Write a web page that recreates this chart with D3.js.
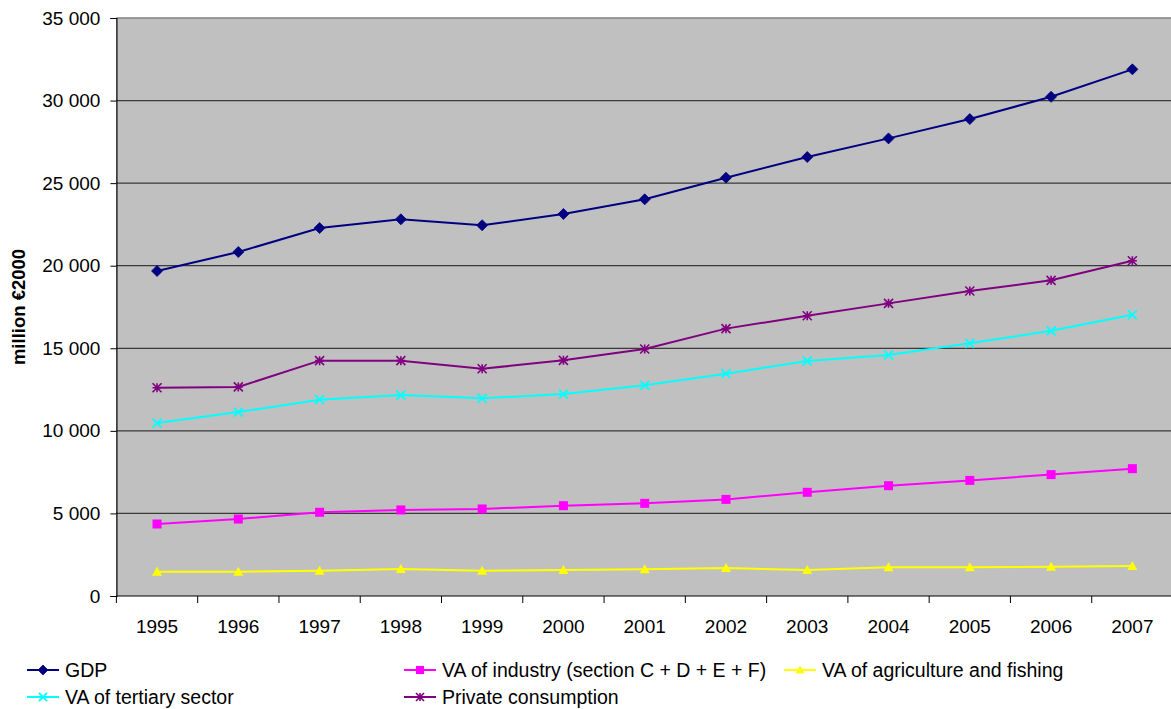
<!DOCTYPE html>
<html>
<head>
<meta charset="utf-8">
<script src="https://cdn.jsdelivr.net/npm/d3@7"></script>
<style>
  html, body { margin: 0; padding: 0; background: #fff; }
  svg { display: block; font-family: "Liberation Sans", Arial, sans-serif; }
</style>
</head>
<body>
<svg id="chart" width="1171" height="709"></svg>
<script>
// Years on the category axis
const years = ["1995","1996","1997","1998","1999","2000","2001","2002","2003","2004","2005","2006","2007"];

// Series values, million €2000
const gdp        = [19680, 20830, 22280, 22810, 22450, 23130, 24020, 25330, 26580, 27710, 28880, 30230, 31890];
const industry   = [4360, 4660, 5070, 5210, 5270, 5470, 5610, 5850, 6280, 6680, 7000, 7350, 7710];
const agriculture= [1470, 1470, 1530, 1635, 1530, 1575, 1615, 1695, 1575, 1740, 1740, 1775, 1815];
const tertiary   = [10475, 11140, 11890, 12170, 11970, 12230, 12760, 13460, 14230, 14590, 15300, 16060, 17030];
const privateCons= [12610, 12660, 14250, 14250, 13760, 14270, 14960, 16190, 16970, 17720, 18470, 19115, 20300];

// Value axis ticks
const yTicks = [0, 5000, 10000, 15000, 20000, 25000, 30000, 35000];

const series = [
  { name: "GDP", values: gdp, color: "#000080", marker: "diamond" },
  { name: "VA of industry (section C + D + E + F)", values: industry, color: "#ff00ff", marker: "square" },
  { name: "VA of agriculture and fishing", values: agriculture, color: "#ffff00", marker: "triangle" },
  { name: "VA of tertiary sector", values: tertiary, color: "#00ffff", marker: "cross" },
  { name: "Private consumption", values: privateCons, color: "#800080", marker: "star" }
];

const svg = d3.select("#chart");
const plot = { left: 116.4, top: 18, right: 1173, bottom: 596 };
const FONT = "'Liberation Sans', Arial, sans-serif";

const x = d3.scaleBand().domain(years).range([plot.left, plot.right]).paddingInner(0).paddingOuter(0);
const y = d3.scaleLinear().domain([0, 35000]).range([plot.bottom, plot.top]);
const cx = d => x(d) + x.bandwidth() / 2;

// Plot background
svg.append("rect")
  .attr("x", plot.left).attr("y", plot.top)
  .attr("width", plot.right - plot.left).attr("height", plot.bottom - plot.top)
  .attr("fill", "#c0c0c0");

// Horizontal gridlines
svg.append("g").selectAll("line")
  .data(yTicks.filter(t => t > 0))
  .join("line")
  .attr("x1", plot.left).attr("x2", plot.right)
  .attr("y1", d => y(d)).attr("y2", d => y(d))
  .attr("stroke", d => d === 35000 ? "#808080" : "#3a3a3a")
  .attr("stroke-width", 1.3);

// Y axis, thousands separated by a space
const fmt = v => d3.format(",")(v).replace(/,/g, " ");
const yAxis = d3.axisLeft(y).tickValues(yTicks).tickSize(6).tickPadding(10).tickFormat(fmt);
const gy = svg.append("g").attr("transform", `translate(${plot.left},0)`).call(yAxis);
gy.attr("font-family", FONT).attr("font-size", 19);
gy.select(".domain").attr("stroke", "#000").attr("stroke-width", 1.2);
gy.selectAll(".tick line").attr("stroke", "#000");
gy.selectAll(".tick text").attr("fill", "#000");

// X axis with ticks at category boundaries
const gx = svg.append("g").attr("transform", `translate(0,${plot.bottom})`);
gx.append("line").attr("x1", plot.left).attr("x2", plot.right).attr("stroke", "#000").attr("stroke-width", 1.2);
gx.selectAll("line.tk")
  .data(years)
  .join("line").attr("class", "tk")
  .attr("x1", d => x(d)).attr("x2", d => x(d))
  .attr("y1", 0).attr("y2", 7)
  .attr("stroke", "#000");
gx.selectAll("text")
  .data(years)
  .join("text")
  .attr("x", d => cx(d)).attr("y", 37)
  .attr("text-anchor", "middle")
  .attr("font-size", 19)
  .text(d => d);

// Y axis title
svg.append("text")
  .attr("transform", `translate(25,${(plot.top + plot.bottom) / 2}) rotate(-90)`)
  .attr("text-anchor", "middle")
  .attr("font-size", 18.5).attr("font-weight", "bold")
  .text("million €2000");

// Marker drawing
function drawMarker(g, type, color, px, py, scale = 1) {
  const s = scale;
  if (type === "diamond") {
    g.append("path").attr("d", `M${px},${py - 5.5 * s}L${px + 5.5 * s},${py}L${px},${py + 5.5 * s}L${px - 5.5 * s},${py}Z`)
      .attr("fill", color).attr("stroke", color).attr("stroke-width", 0.8);
  } else if (type === "square") {
    g.append("rect").attr("x", px - 4.5 * s).attr("y", py - 4.5 * s)
      .attr("width", 9 * s).attr("height", 9 * s).attr("fill", color);
  } else if (type === "triangle") {
    g.append("path").attr("d", `M${px},${py - 5 * s}L${px + 5 * s},${py + 4 * s}L${px - 5 * s},${py + 4 * s}Z`)
      .attr("fill", color);
  } else if (type === "cross") {
    const r = 4.5 * s;
    g.append("path").attr("d", `M${px - r},${py - r}L${px + r},${py + r}M${px - r},${py + r}L${px + r},${py - r}`)
      .attr("stroke", color).attr("stroke-width", 1.8).attr("fill", "none");
  } else if (type === "star") {
    const r = 4.5 * s;
    g.append("path").attr("d",
      `M${px - r},${py - r}L${px + r},${py + r}M${px - r},${py + r}L${px + r},${py - r}M${px},${py - r}L${px},${py + r}M${px - r},${py}L${px + r},${py}`)
      .attr("stroke", color).attr("stroke-width", 1.6).attr("fill", "none");
  }
}

// Series lines and markers
const line = d3.line().x((d, i) => cx(years[i])).y(d => y(d));
const gs = svg.append("g");
series.forEach(s => {
  gs.append("path").datum(s.values)
    .attr("d", line)
    .attr("fill", "none")
    .attr("stroke", s.color)
    .attr("stroke-width", 2);
  const gm = gs.append("g");
  s.values.forEach((v, i) => drawMarker(gm, s.marker, s.color, cx(years[i]), y(v)));
});

// Legend
const legendPos = [
  { x: 27, y: 670 },
  { x: 404, y: 670 },
  { x: 784, y: 670 },
  { x: 27, y: 697 },
  { x: 404, y: 697 }
];
const lg = svg.append("g");
series.forEach((s, i) => {
  const p = legendPos[i];
  const g = lg.append("g");
  g.append("line").attr("x1", p.x).attr("x2", p.x + 32).attr("y1", p.y).attr("y2", p.y)
    .attr("stroke", s.color).attr("stroke-width", 2);
  drawMarker(g, s.marker, s.color, p.x + 16, p.y, 0.9);
  g.append("text").attr("x", p.x + 38).attr("y", p.y + 7)
    .attr("font-size", 19.5).text(s.name);
});
</script>
</body>
</html>
